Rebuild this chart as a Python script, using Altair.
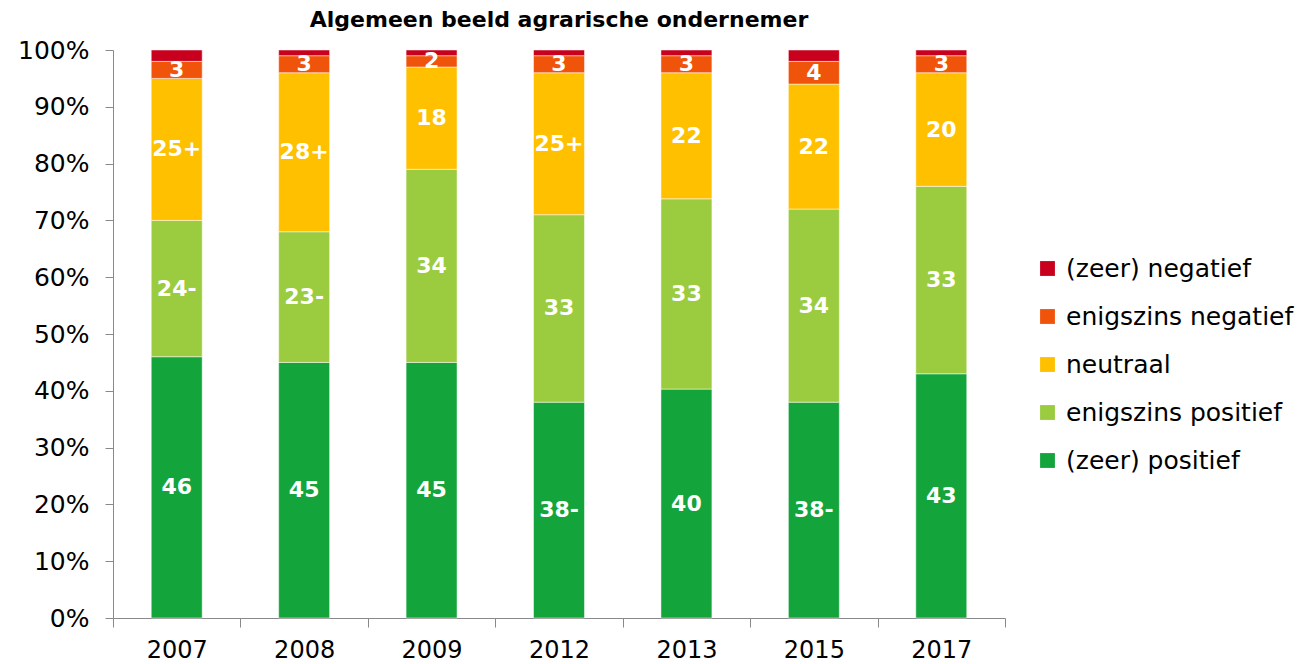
import altair as alt
import pandas as pd

years = ["2007", "2008", "2009", "2012", "2013", "2015", "2017"]
categories = ["(zeer) positief", "enigszins positief", "neutraal", "enigszins negatief", "(zeer) negatief"]
colors = ["#14A43C", "#9BCB3F", "#FFC000", "#F0530A", "#C8001E"]

zeer_pos = [46, 45, 45, 38, 40.3, 38, 43]
enig_pos = [24, 23, 34, 33, 33.5, 34, 33]
neutraal = [25, 28, 18, 25, 22.2, 22, 20]
enig_neg = [3, 3, 2, 3, 3, 4, 3]
zeer_neg = [2, 1, 1, 1, 1, 2, 1]

lbl_zeer_pos = ["46", "45", "45", "38-", "40", "38-", "43"]
lbl_enig_pos = ["24-", "23-", "34", "33", "33", "34", "33"]
lbl_neutraal = ["25+", "28+", "18", "25+", "22", "22", "20"]
lbl_enig_neg = ["3", "3", "2", "3", "3", "4", "3"]
lbl_zeer_neg = ["", "", "", "", "", "", ""]

series = [zeer_pos, enig_pos, neutraal, enig_neg, zeer_neg]
labels = [lbl_zeer_pos, lbl_enig_pos, lbl_neutraal, lbl_enig_neg, lbl_zeer_neg]

rows = []
for ci, (cat, vals, lbls) in enumerate(zip(categories, series, labels)):
    for yi, y in enumerate(years):
        rows.append({"year": y, "cat": cat, "order": ci, "value": vals[yi], "label": lbls[yi]})
df = pd.DataFrame(rows)

FONT = "DejaVu Sans"
legend_domain = categories[::-1]
legend_range = colors[::-1]

base = alt.Chart(df).transform_stack(
    stack="value", groupby=["year"], as_=["v0", "v1"], sort=[alt.SortField("order", order="ascending")]
)

x_enc = alt.X("year:N", sort=years, title=None,
              scale=alt.Scale(paddingInner=0, paddingOuter=0),
              axis=alt.Axis(labelAngle=0, labelFontSize=24, labelFont=FONT, labelColor="black",
                            domainColor="#898989", tickColor="#898989", tickSize=9,
                            tickBand="extent", labelPadding=11, grid=False))

bars = base.mark_bar(stroke="white", strokeWidth=0.5, width=alt.RelativeBandSize(0.4)).encode(
    x=x_enc,
    y=alt.Y("v0:Q", title=None,
            scale=alt.Scale(domain=[0, 100], nice=False),
            axis=alt.Axis(values=list(range(0, 101, 10)), labelExpr="datum.value + '%'",
                          labelFontSize=25, labelFont=FONT, labelColor="black",
                          domainColor="#898989", tickColor="#898989", tickSize=8,
                          labelPadding=16, grid=False)),
    y2="v1:Q",
    color=alt.Color("cat:N", scale=alt.Scale(domain=legend_domain, range=legend_range),
                    legend=alt.Legend(title=None, orient="none", legendX=922, legendY=206,
                                      labelFontSize=25, labelFont=FONT, labelColor="black",
                                      labelLimit=400,
                                      symbolType="square", symbolSize=220, symbolStrokeWidth=0,
                                      rowPadding=22, labelOffset=6)),
)

texts = base.transform_filter("datum.label != ''").transform_calculate(
    mid="(datum.v0 + datum.v1) / 2"
).mark_text(color="white", fontWeight="bold", fontSize=22, font=FONT, baseline="middle").encode(
    x=alt.X("year:N", sort=years),
    y=alt.Y("mid:Q"),
    text="label:N",
)

chart = alt.layer(bars, texts).properties(
    width=892, height=568,
    title=alt.TitleParams("Algemeen beeld agrarische ondernemer", fontSize=22, font=FONT,
                          fontWeight="bold", color="black", anchor="middle", offset=6),
    autosize=alt.AutoSizeParams(type="none"),
    padding={"left": 105, "top": 42, "right": 293, "bottom": 46},
).configure_view(stroke=None)

chart.save("out.html", embed_options={"renderer": "svg", "actions": False})
